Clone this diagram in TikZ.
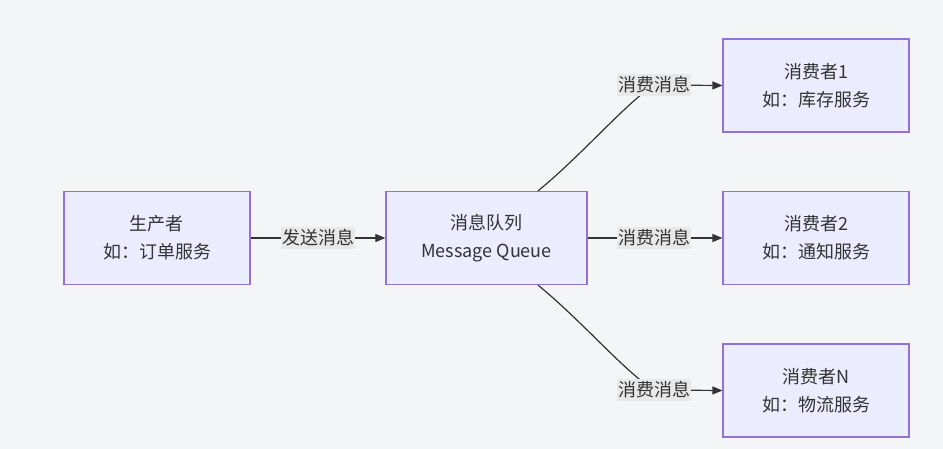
\documentclass[tikz,border=0pt]{standalone}
\usepackage{fontspec}
\setmainfont{Noto Sans CJK SC}
\usepackage{xcolor}
\definecolor{mmbg}{RGB}{244,245,247}
\definecolor{mmfill}{RGB}{236,236,255}
\definecolor{mmborder}{RGB}{147,112,219}
\definecolor{mmline}{RGB}{51,51,51}
\definecolor{mmlabel}{RGB}{232,232,232}
\usetikzlibrary{arrows.meta,positioning,calc}

\begin{document}
\begin{tikzpicture}[
    x=0.75pt, y=-0.75pt,
    mainbox/.style={rectangle, fill=mmfill, draw=mmborder, line width=0.9pt,
                    minimum width=139.5pt, minimum height=69.75pt, inner sep=0pt,
                    font=\fontsize{13.5}{21}\selectfont, text=mmline, align=center},
    edgelabel/.style={rectangle, fill=mmlabel, inner xsep=1pt, inner ysep=2pt,
                      font=\fontsize{13.5}{15}\selectfont, text=mmline},
    flow/.style={draw=mmline, line width=0.9pt},
    >={Triangle[length=7.5pt, width=6pt]}
  ]
    % Background
    \useasboundingbox[fill=mmbg] (0,0) rectangle (943,449);

    % Producer and queue
    \node[mainbox] (prod) at (157,238) {生产者\\如：订单服务};
    \node[mainbox, minimum width=150.75pt] (mq) at (486.5,238) {消息队列\\Message Queue};

    % Consumers
    \node[mainbox] (c1) at (816,85.5) {消费者1\\如：库存服务};
    \node[mainbox] (c2) at (816,238) {消费者2\\如：通知服务};
    \node[mainbox] (cn) at (816,390.5) {消费者N\\如：物流服务};

    % Label points
    \coordinate (k0) at (318,238);
    \coordinate (k1) at (654,85);
    \coordinate (k2) at (654,238);
    \coordinate (kn) at (654,390);

    % Arrows
    \draw[flow, ->] (prod.east) -- (k0) -- (mq.west);
    \draw[flow, ->] ($(mq.north)+(51.5,0)$) .. controls (582,155) and (625,104) .. (k1) -- (c1.west);
    \draw[flow, ->] (mq.east) -- (k2) -- (c2.west);
    \draw[flow, ->] ($(mq.south)+(51.5,0)$) .. controls (582,321) and (625,372) .. (kn) -- (cn.west);

    % Edge labels
    \node[edgelabel] at (k0) {发送消息};
    \node[edgelabel] at (k1) {消费消息};
    \node[edgelabel] at (k2) {消费消息};
    \node[edgelabel] at (kn) {消费消息};
  \end{tikzpicture}
\end{document}
